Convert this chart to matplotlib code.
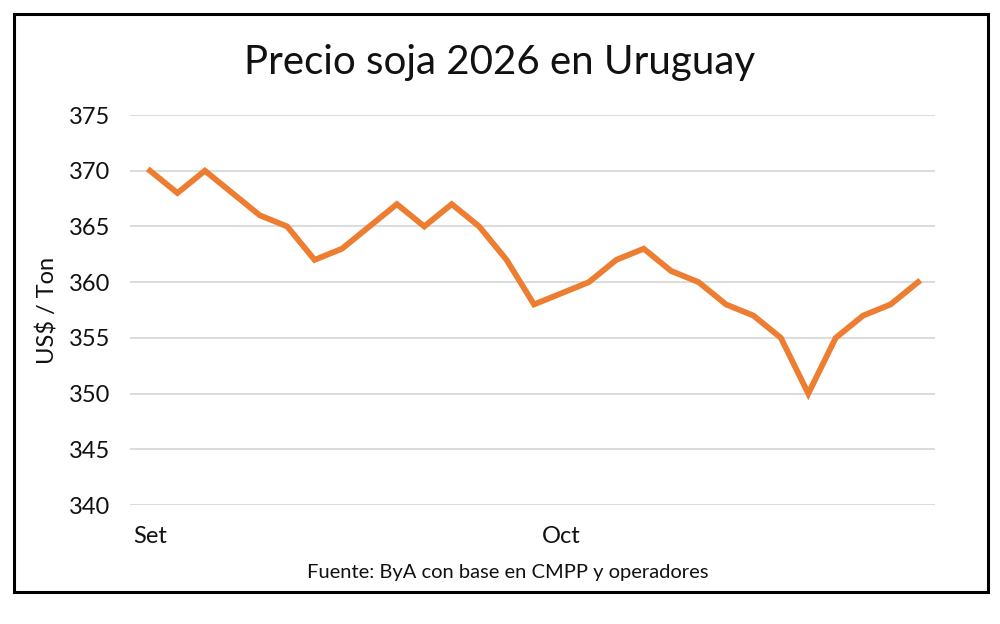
import matplotlib
matplotlib.use("Agg")
from matplotlib import pyplot as plt
from matplotlib.patches import Rectangle

# daily soybean prices, US$/ton (Sept -> Oct)
prices = [370, 368, 370, 368, 366, 365, 362, 363, 365, 367, 365, 367, 365, 362,
          358, 359, 360, 362, 363, 361, 360, 358, 357, 355, 350, 355, 357, 358, 360]
days = list(range(len(prices)))
month_ticks = [0, 15]
month_labels = ["Set", "Oct"]
y_ticks = [340, 345, 350, 355, 360, 365, 370, 375]

plt.rcParams['font.family'] = ['Lato', 'DejaVu Sans']

fig = plt.figure(figsize=(10, 6.24), dpi=100)
ax = fig.add_axes([0.130, 0.1907, 0.805, 0.625])

ax.plot(days, prices, color='#ED7D31', linewidth=4.2, solid_joinstyle='miter', zorder=3)

ax.set_xlim(-0.73, 28.62)
ax.set_ylim(340, 375)
ax.set_yticks(y_ticks)
ax.set_xticks(month_ticks)
ax.set_xticklabels(month_labels)
ax.yaxis.grid(True, color='#D9D9D9', linewidth=1.3)
ax.set_axisbelow(True)
for s in ax.spines.values():
    s.set_visible(False)
ax.tick_params(axis='y', length=0, pad=14, labelsize=17, colors='#111111')
ax.tick_params(axis='x', length=0, pad=15, labelsize=17, colors='#111111')
ax.set_ylabel("US$ / Ton", fontsize=17, color='#111111', labelpad=8)

fig.text(0.5, 0.90, "Precio soja 2026 en Uruguay", ha='center', va='center',
         fontsize=29, color='#111111')
fig.text(0.508, 0.082, "Fuente: ByA con base en CMPP y operadores", ha='center',
         va='center', fontsize=14.5, color='#111111')

fig.patches.append(Rectangle((0.014, (624 - 592) / 624), 0.974, (592 - 14) / 624,
                             transform=fig.transFigure, fill=False,
                             edgecolor='black', linewidth=2.2))

fig.savefig("out.png", dpi=100)
